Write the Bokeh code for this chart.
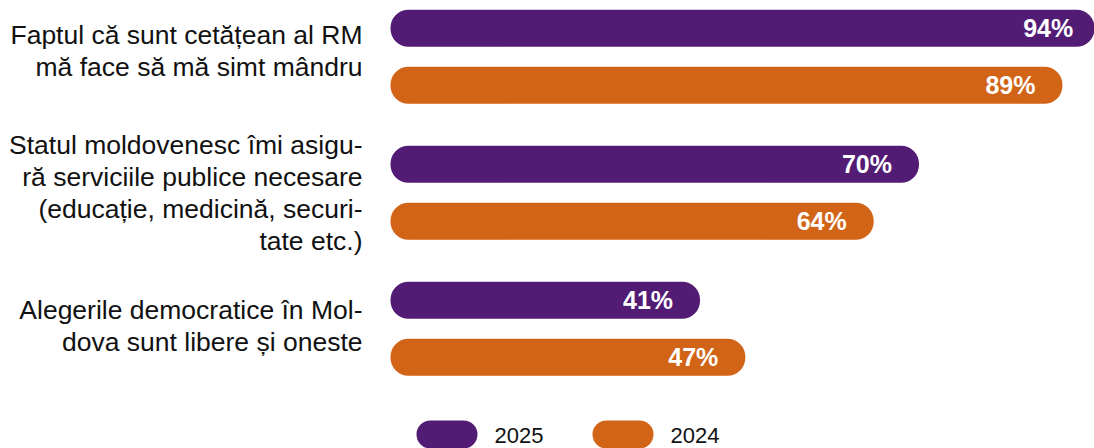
from bokeh.plotting import figure
from bokeh.models import Range1d, ColumnDataSource
from bokeh.core.properties import value
from bokeh.embed import file_html
from bokeh.resources import INLINE

# ---- data ----
categories = [
    "Faptul că sunt cetățean al RM\nmă face să mă simt mândru",
    "Statul moldovenesc îmi asigu-\nră serviciile publice necesare\n(educație, medicină, securi-\ntate etc.)",
    "Alegerile democratice în Mol-\ndova sunt libere și oneste",
]
series_names = ["2025", "2024"]
values_2025 = [94, 70, 41]
values_2024 = [89, 64, 47]
colors = ["#521c74", "#d26418"]

FONT = "Liberation Sans"

# ---- geometry (pixels) ----
W, H = 1094, 448
px_per_unit_x = 7.55
zero_px = 390
group_px = 136.0
first_group_px = 56.25

x_start = -zero_px / px_per_unit_x
x_end = (W - zero_px) / px_per_unit_x
y_top = -first_group_px / group_px
y_bottom = (H - first_group_px) / group_px

p = figure(width=W, height=H, output_backend="svg", toolbar_location=None,
           x_range=Range1d(x_start, x_end), y_range=Range1d(y_bottom, y_top),
           min_border=0, outline_line_color=None)
p.axis.visible = False
p.grid.visible = False
p.background_fill_color = "white"
p.border_fill_color = "white"

offset = 28.5 / group_px
bar_h = 37 / group_px
idx = list(range(len(categories)))

for vals, col, off in [(values_2025, colors[0], -offset), (values_2024, colors[1], offset)]:
    src = ColumnDataSource(dict(y=[i + off for i in idx], right=vals,
                                lab=[f"{v}%" for v in vals]))
    p.hbar(y="y", left=0, right="right", height=bar_h, source=src,
           fill_color=col, line_color=None, border_radius=18)
    p.text(x="right", y="y", text="lab", source=src, x_offset=-27,
           text_align="right", text_baseline="middle", text_color="white",
           text_font=value(FONT), text_font_size="25px", text_font_style="bold")

# category labels (small pixel nudges to match the original's placement)
lab_src = ColumnDataSource(dict(x=[-28 / px_per_unit_x] * len(categories), y=idx,
                                text=categories, dy=[-6, 0, -3]))
p.text(x="x", y="y", text="text", y_offset="dy", source=lab_src,
       text_align="right", text_baseline="middle", text_color="#111111",
       text_font=value(FONT), text_font_size="26.5px", text_line_height=1.07)

# legend (manual pills)
leg_y = (435 - 56.25) / group_px
leg_left = [(416 - 390) / px_per_unit_x, (592 - 390) / px_per_unit_x]
leg_w = 61 / px_per_unit_x
leg_src = ColumnDataSource(dict(y=[leg_y, leg_y], left=leg_left,
                                right=[l + leg_w for l in leg_left],
                                color=colors, name=series_names))
p.hbar(y="y", left="left", right="right", height=30 / group_px, source=leg_src,
       fill_color="color", line_color=None, border_radius=15)
p.text(x="right", y="y", text="name", source=leg_src, x_offset=17,
       text_align="left", text_baseline="middle", text_color="#111111",
       text_font=value(FONT), text_font_size="22px")

open("out.html", "w").write(file_html(p, INLINE))
